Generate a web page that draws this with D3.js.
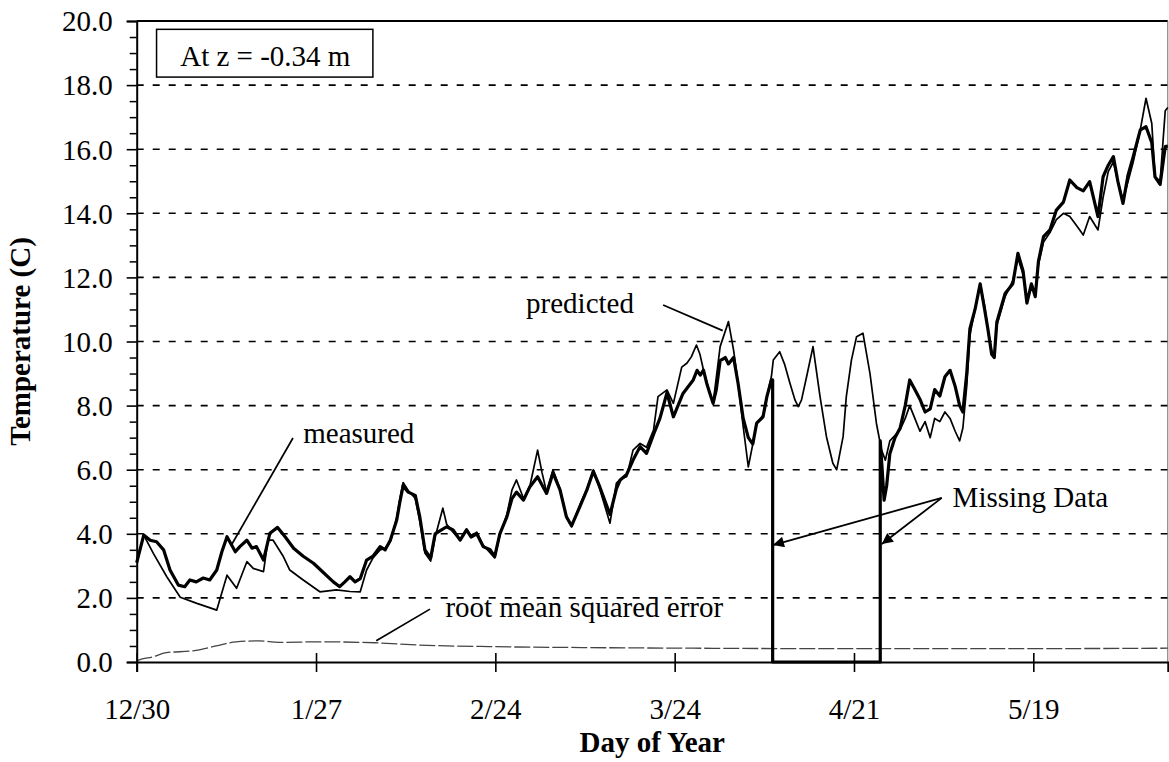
<!DOCTYPE html>
<html>
<head>
<meta charset="utf-8">
<script src="https://cdn.jsdelivr.net/npm/d3@7"></script>
<style>
  body { margin: 0; background: #fff; }
  svg { display: block; }
  text { font-family: "Liberation Serif", "Times New Roman", serif; fill: #000; }
</style>
</head>
<body>
<svg id="chart" width="1169" height="762"></svg>
<script>
// days counted from 12/30
const dayTicks = [0, 28, 56, 84, 112, 140]
const dayLabels = ['12/30', '1/27', '2/24', '3/24', '4/21', '5/19']
const tempTicks = [0, 2, 4, 6, 8, 10, 12, 14, 16, 18, 20]
const tempMinor = [0.5, 1, 1.5, 2.5, 3, 3.5, 4.5, 5, 5.5, 6.5, 7, 7.5, 8.5, 9, 9.5, 10.5, 11, 11.5,
  12.5, 13, 13.5, 14.5, 15, 15.5, 16.5, 17, 17.5, 18.5, 19, 19.5]

// [day, temperature C]
const measured = [
  [0, 3.1], [1.1, 3.96], [2.1, 3.8], [3.1, 3.75], [4.2, 3.5], [5.2, 2.87], [6.5, 2.4], [7.5, 2.35],
  [8.3, 2.56], [9.3, 2.5], [10.4, 2.62], [11.4, 2.56], [12.5, 2.87], [13.3, 3.44], [14.1, 3.91],
  [15.4, 3.44], [16.1, 3.6], [17.2, 3.8], [18.0, 3.55], [18.7, 3.6], [19.8, 3.18], [20.8, 4.02],
  [22.0, 4.2], [23.2, 3.9], [24.5, 3.55], [26.0, 3.3], [27.6, 3.08], [29.1, 2.8], [30.7, 2.5],
  [31.7, 2.35], [32.5, 2.5], [33.3, 2.66], [34.1, 2.5], [34.9, 2.6], [35.9, 3.18], [36.9, 3.3],
  [38.0, 3.6], [38.8, 3.5], [39.6, 3.8], [40.6, 4.43], [41.1, 5.0], [41.6, 5.5], [42.4, 5.3],
  [43.5, 5.2], [44.2, 4.53], [45.0, 3.5], [45.9, 3.24], [46.6, 4.0], [47.4, 4.1], [48.4, 4.22],
  [49.4, 4.12], [50.5, 3.8], [51.5, 4.12], [52.2, 3.9], [53.1, 4.0], [54.1, 3.6], [55.2, 3.5],
  [55.9, 3.29], [56.7, 4.0], [57.8, 4.53], [58.6, 5.1], [59.3, 5.3], [60.4, 5.05], [61.4, 5.47],
  [62.6, 5.78], [64.0, 5.26], [65.0, 5.9], [66.1, 5.37], [67.1, 4.53], [67.9, 4.25], [69.2, 4.85],
  [70.3, 5.37], [71.3, 5.95], [72.3, 5.47], [73.9, 4.6], [74.9, 5.4], [75.5, 5.68], [76.5, 5.85],
  [77.5, 6.3], [78.6, 6.72], [79.6, 6.51], [80.7, 7.1], [81.7, 7.6], [82.8, 8.4], [83.8, 7.65],
  [85.3, 8.38], [86.9, 8.8], [87.5, 9.1], [88.0, 8.95], [88.5, 9.11], [89.0, 8.7], [89.5, 8.38],
  [90.0, 8.07], [90.5, 8.5], [91.1, 9.4], [91.9, 9.5], [92.4, 9.3], [93.2, 9.5], [93.9, 8.7],
  [94.7, 7.6], [95.5, 7.0], [96.2, 6.8], [96.8, 7.45], [97.8, 7.65], [98.4, 8.28], [99.1, 8.8],
  [99.3, 8.8], [99.3, 0], [116.1, 0], [116.1, 6.9], [116.4, 6.0], [116.7, 5.05], [117.1, 5.5],
  [117.6, 6.5], [118.4, 7.0], [119.2, 7.3], [120.0, 8.0], [120.7, 8.8], [121.5, 8.5], [122.3, 8.2],
  [123.1, 7.8], [123.9, 7.9], [124.6, 8.5], [125.4, 8.3], [126.2, 8.9], [127.0, 9.1], [127.8, 8.6],
  [128.5, 8.0], [129.0, 7.8], [129.6, 9.0], [130.1, 10.4], [130.9, 11.0], [131.7, 11.8], [132.4, 11.0],
  [132.9, 10.4], [133.5, 9.6], [133.9, 9.5], [134.3, 10.6], [135.6, 11.5], [136.8, 11.8], [137.6, 12.75],
  [138.4, 12.2], [139.0, 11.2], [139.7, 11.8], [140.3, 11.4], [140.8, 12.5], [141.6, 13.27], [142.6, 13.48],
  [143.6, 14.1], [144.7, 14.35], [145.7, 15.04], [146.8, 14.8], [147.8, 14.7], [148.8, 14.99],
  [150.1, 13.9], [150.9, 15.14], [151.7, 15.5], [152.5, 15.77], [153.2, 15.0], [154.0, 14.31],
  [154.8, 15.2], [155.6, 15.77], [156.7, 16.6], [157.6, 16.7], [158.5, 16.2], [159.0, 15.14],
  [159.8, 14.9], [160.6, 16.08], [161, 16.1]
]

const predicted = [
  [0, 3.1], [1.1, 3.96], [2.6, 3.39], [4.7, 2.66], [6.8, 2.02], [9.4, 1.83], [12.5, 1.62], [14.1, 2.71],
  [15.6, 2.3], [17.2, 3.13], [18.2, 2.92], [19.8, 2.82], [20.5, 3.8], [21.3, 3.8], [22.9, 3.29],
  [23.9, 2.87], [26.0, 2.56], [28.6, 2.19], [31.2, 2.25], [33.3, 2.2], [34.9, 2.19], [35.9, 2.87],
  [36.9, 3.25], [38.0, 3.5], [38.8, 3.55], [39.6, 3.75], [40.6, 4.5], [41.1, 5.1], [41.6, 5.6],
  [42.4, 5.35], [43.5, 5.1], [44.2, 4.4], [45.0, 3.4], [45.9, 3.15], [46.6, 3.9], [47.8, 4.8],
  [48.4, 4.3], [49.4, 4.05], [50.5, 3.8], [51.5, 4.15], [52.2, 3.95], [53.1, 4.05], [54.1, 3.65],
  [55.2, 3.4], [55.9, 3.25], [56.7, 3.95], [57.8, 4.6], [58.6, 5.37], [59.3, 5.68], [60.4, 5.1],
  [61.4, 5.5], [62.6, 6.61], [63.3, 5.9], [64.0, 5.3], [65.0, 6.0], [66.1, 5.4], [67.1, 4.5],
  [67.9, 4.22], [69.2, 4.9], [70.3, 5.4], [71.3, 6.0], [72.3, 5.4], [73.9, 4.33], [74.9, 5.58],
  [75.5, 5.7], [76.5, 5.78], [77.5, 6.61], [78.6, 6.82], [79.6, 6.7], [80.7, 7.24], [81.4, 8.28],
  [82.8, 8.49], [83.8, 8.07], [85.1, 9.2], [85.9, 9.32], [86.6, 9.52], [87.4, 9.89], [87.95, 9.6],
  [88.5, 9.11], [89.5, 8.38], [90.0, 8.07], [91.1, 9.84], [92.4, 10.62], [93.2, 9.73], [93.9, 8.7],
  [94.7, 7.34], [95.5, 6.09], [96.2, 6.8], [96.8, 7.45], [97.8, 7.7], [98.4, 8.28], [99.1, 8.9],
  [99.4, 9.42], [100.4, 9.68], [101.2, 9.27], [102.0, 8.7], [102.8, 8.17], [103.3, 7.97], [103.8, 8.17],
  [104.6, 8.9], [105.6, 9.84], [106.7, 8.28], [107.7, 7.03], [108.7, 6.2], [109.3, 6.0], [110.3, 7.03],
  [110.8, 8.28], [111.6, 9.42], [112.4, 10.15], [113.4, 10.26], [114.5, 9.0], [115.5, 7.45],
  [116.3, 6.61], [116.9, 6.3], [117.6, 6.9], [119.2, 7.24], [120.0, 7.6], [120.7, 8.0], [121.5, 7.6],
  [122.3, 7.2], [123.1, 7.5], [123.9, 7.0], [124.6, 7.6], [125.4, 7.5], [126.2, 7.8], [127.0, 7.6],
  [127.8, 7.2], [128.5, 6.9], [129.0, 7.3], [129.6, 8.6], [130.1, 10.2], [130.9, 11.0], [131.7, 11.8],
  [132.4, 11.1], [132.9, 10.4], [133.5, 9.7], [133.9, 9.5], [134.3, 10.5], [135.6, 11.4], [136.8, 11.9],
  [137.6, 12.6], [138.4, 12.1], [139.0, 11.3], [139.7, 11.7], [140.3, 11.5], [140.8, 12.4], [141.6, 13.1],
  [142.6, 13.4], [143.6, 13.8], [144.7, 14.0], [145.7, 13.9], [146.8, 13.6], [147.8, 13.32], [148.8, 13.9],
  [150.1, 13.48], [150.9, 14.5], [151.7, 15.3], [152.5, 15.6], [153.2, 15.0], [154.0, 14.4], [154.8, 15.0],
  [155.6, 15.6], [156.7, 16.6], [157.6, 17.59], [158.5, 16.8], [159.0, 15.14], [159.8, 15.0],
  [160.6, 17.2], [161, 17.3]
]

const rmse = [
  [0, 0.03], [0.3, 0.06], [2.5, 0.16], [4.6, 0.29], [8.8, 0.35], [12.4, 0.5], [15.5, 0.63], [19.1, 0.66],
  [22.2, 0.61], [28.4, 0.63], [37.2, 0.6], [44, 0.53], [55, 0.48], [70, 0.45], [87, 0.43], [100, 0.42],
  [115, 0.42], [130, 0.42], [145, 0.42], [161, 0.43]
]

const svg = d3.select('#chart')
const x = d3.scaleLinear().domain([0, 161]).range([136.7, 1167.8])
const y = d3.scaleLinear().domain([0, 20]).range([662, 21])

// grid
svg.append('g')
  .selectAll('line')
  .data(tempTicks.filter(t => t > 0 && t < 20))
  .enter().append('line')
  .attr('x1', x(0)).attr('x2', x(161))
  .attr('y1', d => y(d)).attr('y2', d => y(d))
  .attr('stroke', '#000')
  .attr('stroke-width', 1.6)
  .attr('stroke-dasharray', '7,9')

// frame top / right
svg.append('line')
  .attr('x1', x(0)).attr('x2', x(161)).attr('y1', y(20)).attr('y2', y(20))
  .attr('stroke', '#000').attr('stroke-width', 2)
svg.append('line')
  .attr('x1', x(161)).attr('x2', x(161)).attr('y1', y(20)).attr('y2', y(0))
  .attr('stroke', '#666').attr('stroke-width', 1)

// series
const line = d3.line().x(d => x(d[0])).y(d => y(d[1]))

svg.append('path')
  .datum(rmse)
  .attr('d', line.curve(d3.curveMonotoneX))
  .attr('fill', 'none')
  .attr('stroke', '#444')
  .attr('stroke-width', 1.3)
  .attr('stroke-dasharray', '16,3')

line.curve(d3.curveLinear)

svg.append('path')
  .datum(predicted)
  .attr('d', line)
  .attr('fill', 'none')
  .attr('stroke', '#000')
  .attr('stroke-width', 1.7)
  .attr('stroke-linejoin', 'round')

svg.append('path')
  .datum(measured)
  .attr('d', line)
  .attr('fill', 'none')
  .attr('stroke', '#000')
  .attr('stroke-width', 3.2)
  .attr('stroke-linejoin', 'round')

// y axis
const yAxis = svg.append('g')
  .attr('transform', `translate(${x(0)},0)`)
  .call(d3.axisLeft(y).tickValues(tempTicks).tickSize(10).tickPadding(14).tickFormat(d => d.toFixed(1)))
yAxis.select('.domain').attr('stroke-width', 2)
yAxis.selectAll('.tick line').attr('stroke-width', 1.6)
yAxis.selectAll('text')
  .style('font-size', '29px')
  .attr('dy', '0.34em')

const yMinor = svg.append('g')
  .attr('transform', `translate(${x(0)},0)`)
  .call(d3.axisLeft(y).tickValues(tempMinor).tickSize(7).tickFormat(''))
yMinor.select('.domain').remove()
yMinor.selectAll('.tick line').attr('stroke-width', 1.5)

// x axis
const xAxis = svg.append('g')
  .attr('transform', `translate(0,${y(0)})`)
  .call(d3.axisBottom(x).tickValues(dayTicks).tickSize(10).tickPadding(26).tickFormat((d, i) => dayLabels[i]))
xAxis.select('.domain').attr('stroke-width', 2)
xAxis.selectAll('.tick line').attr('y1', -9).attr('stroke-width', 1.6)
xAxis.selectAll('text').style('font-size', '29px')

// axis titles
svg.append('text')
  .attr('transform', `translate(30,${(y(0) + y(20)) / 2}) rotate(-90)`)
  .attr('text-anchor', 'middle')
  .style('font-size', '29px')
  .style('font-weight', 'bold')
  .text('Temperature (C)')

svg.append('text')
  .attr('x', (x(0) + x(161)) / 2)
  .attr('y', 752)
  .attr('text-anchor', 'middle')
  .style('font-size', '29px')
  .style('font-weight', 'bold')
  .text('Day of Year')

// depth label box
const box = svg.append('g')
const boxText = box.append('text')
  .attr('x', x(6.8))
  .attr('y', y(18.6))
  .style('font-size', '29px')
  .text('At z = -0.34 m')
const bb = boxText.node().getBBox()
box.insert('rect', 'text')
  .attr('x', x(3.1)).attr('y', y(19.74))
  .attr('width', bb.x + bb.width + 22 - x(3.1))
  .attr('height', y(18.25) - y(19.74))
  .attr('fill', '#fff')
  .attr('stroke', '#000')
  .attr('stroke-width', 1.5)

// annotations
const leader = (x1, y1, x2, y2) => svg.append('line')
  .attr('x1', x(x1)).attr('y1', y(y1)).attr('x2', x(x2)).attr('y2', y(y2))
  .attr('stroke', '#000').attr('stroke-width', 1.7)

const note = (d, t, label) => svg.append('text')
  .attr('x', x(d)).attr('y', y(t))
  .style('font-size', '29px')
  .text(label)

note(60.8, 10.89, 'predicted')
leader(82.2, 11.14, 91.5, 10.34)
note(26.0, 6.83, 'measured')
leader(24.4, 6.99, 14.7, 3.62)
note(48.2, 1.41, 'root mean squared error')
leader(45.8, 1.65, 37.4, 0.66)

svg.append('defs').append('marker')
  .attr('id', 'arrow')
  .attr('viewBox', '0 0 10 10')
  .attr('refX', 10).attr('refY', 5)
  .attr('markerWidth', 16).attr('markerHeight', 11)
  .attr('markerUnits', 'userSpaceOnUse')
  .attr('orient', 'auto')
  .append('path')
  .attr('d', 'M0,0 L10,5 L0,10 Z')
  .attr('fill', '#000')

const apex = [125.7, 5.12]
;[[99.35, 3.65], [116.35, 3.68]].forEach(tip => {
  svg.append('line')
    .attr('x1', x(apex[0])).attr('y1', y(apex[1]))
    .attr('x2', x(tip[0])).attr('y2', y(tip[1]))
    .attr('stroke', '#000').attr('stroke-width', 1.8)
    .attr('marker-end', 'url(#arrow)')
})
note(127.4, 4.85, 'Missing Data')
</script>
</body>
</html>
